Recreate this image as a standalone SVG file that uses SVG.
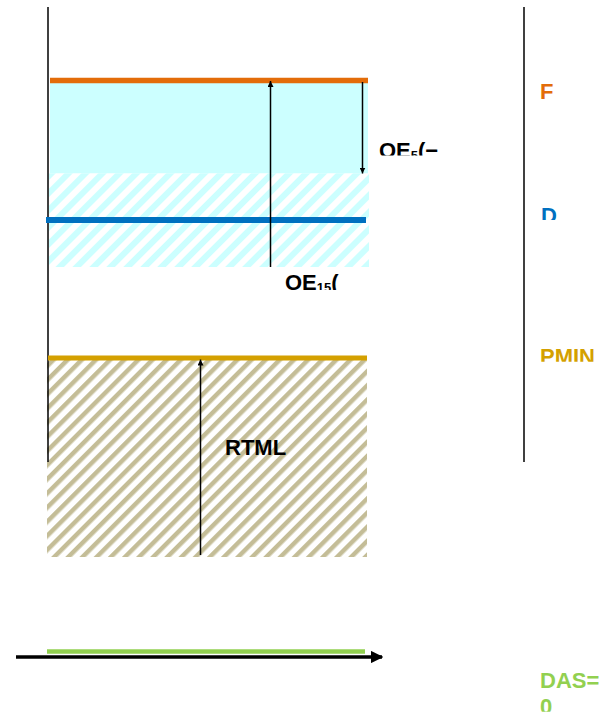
<svg xmlns="http://www.w3.org/2000/svg" width="609" height="717" viewBox="0 0 609 717">
<style>
.lbl{font-family:"Liberation Sans",Arial,sans-serif;font-size:22px;font-weight:bold}
.axis{stroke:#000;stroke-width:1.5;fill:none}
.dim{stroke:#000;stroke-width:1.5;fill:none}
</style>
<defs>
<pattern id="hCyan" width="12" height="12" patternUnits="userSpaceOnUse" patternTransform="rotate(45)">
<rect width="12" height="12" fill="#fff"/>
<rect width="6" height="12" fill="#CCFFFF"/>
</pattern>
<pattern id="hTan" width="10" height="10" patternUnits="userSpaceOnUse" patternTransform="rotate(45)">
<rect width="10" height="10" fill="#fff"/>
<rect width="4.5" height="10" fill="#C4BD97"/>
</pattern>
<marker id="ah" viewBox="0 0 10 10" refX="10" refY="5" markerWidth="4" markerHeight="4" orient="auto" markerUnits="strokeWidth">
<path d="M0,0 L10,5 L0,10 z" fill="#000"/>
</marker>
<marker id="ahBig" viewBox="0 0 10 10" refX="9" refY="5" markerWidth="3.4" markerHeight="3.4" orient="auto" markerUnits="strokeWidth">
<path d="M0,0 L10,5 L0,10 z" fill="#000"/>
</marker>
<clipPath id="cOE5"><rect x="370" y="130" width="100" height="25.5"/></clipPath>
<clipPath id="cD"><rect x="530" y="195" width="79" height="25"/></clipPath>
<clipPath id="cPMIN"><rect x="530" y="335" width="79" height="26.7"/></clipPath>
<clipPath id="cOE15"><rect x="275" y="262" width="100" height="28"/></clipPath>
<clipPath id="cDAS"><rect x="530" y="660" width="79" height="51.7"/></clipPath>
</defs>

<g id="zone-cyan">
<rect x="50" y="83" width="318" height="90.5" fill="#CCFFFF"/>
<rect x="49" y="173.5" width="320" height="93.5" fill="url(#hCyan)"/>
</g>
<g id="zone-tan">
<rect x="47" y="360" width="320" height="197" fill="url(#hTan)"/>
</g>

<g id="axis-left"><line class="axis" x1="48" y1="7" x2="48" y2="462"/></g>
<g id="axis-right"><line class="axis" x1="524" y1="7" x2="524" y2="462"/></g>

<g id="level-F"><line x1="50" y1="80.5" x2="368" y2="80.5" stroke="#E36C09" stroke-width="5.5"/></g>
<g id="level-D"><line x1="46" y1="220" x2="366" y2="220" stroke="#0070C0" stroke-width="6"/></g>
<g id="level-PMIN"><line x1="48" y1="358" x2="367" y2="358" stroke="#D4A000" stroke-width="5"/></g>
<g id="level-DAS"><line x1="47" y1="651.5" x2="365" y2="651.5" stroke="#92D050" stroke-width="4.5"/></g>

<g id="connectors">
<line class="dim" x1="270.5" y1="267" x2="270.5" y2="81" marker-end="url(#ah)"/>
<line class="dim" x1="362.5" y1="82" x2="362.5" y2="173.5" marker-end="url(#ah)"/>
<line class="dim" x1="200.5" y1="555" x2="200.5" y2="359.5" marker-end="url(#ah)"/>
<line x1="16" y1="657" x2="382" y2="657" stroke="#000" stroke-width="3.7" marker-end="url(#ahBig)"/>
</g>

<g id="label-F"><text class="lbl" x="540" y="99" fill="#E36C09">F</text></g>
<g id="label-D"><text class="lbl" x="541" y="222.5" fill="#0070C0" clip-path="url(#cD)">D</text></g>
<g id="label-PMIN"><text class="lbl" x="540" y="363.7" fill="#D4A000" clip-path="url(#cPMIN)">PMIN</text></g>
<g id="label-DAS"><text class="lbl" x="540" y="687.5" fill="#92D050" clip-path="url(#cDAS)">DAS=<tspan x="540" y="713.7">0</tspan></text></g>
<g id="label-OE5"><text class="lbl" x="379" y="157.5" fill="#000" clip-path="url(#cOE5)">OE<tspan font-size="13" dy="2">5</tspan><tspan dy="-2">(−</tspan></text></g>
<g id="label-OE15"><text class="lbl" x="285" y="290" fill="#000" clip-path="url(#cOE15)">OE<tspan font-size="13" dy="2">15</tspan><tspan dy="-2">(</tspan></text></g>
<g id="label-RTML"><text class="lbl" x="225" y="454.5" fill="#000">RTML</text></g>
</svg>
